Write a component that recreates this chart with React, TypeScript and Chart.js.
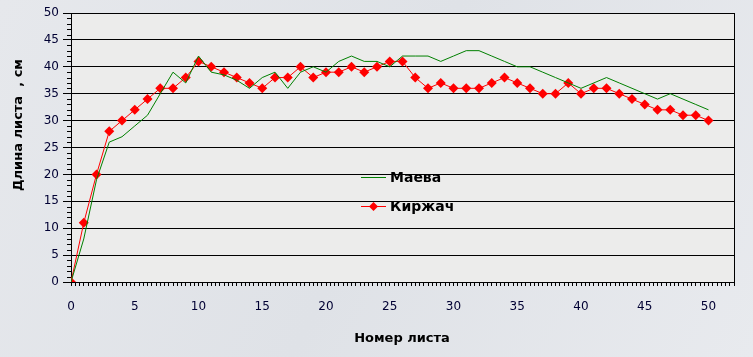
import React, { useEffect, useRef } from "react";
import { Chart, registerables } from "chart.js";

Chart.register(...registerables);

const leafNumbers = [
  0, 1, 2, 3, 4, 5, 6, 7, 8, 9, 10, 11, 12, 13, 14, 15, 16, 17, 18, 19, 20,
  21, 22, 23, 24, 25, 26, 27, 28, 29, 30, 31, 32, 33, 34, 35, 36, 37, 38, 39,
  40, 41, 42, 43, 44, 45, 46, 47, 48, 49, 50,
];

const maeva = [
  0, 8, 19, 26, 27, 29, 31, 35, 39, 37,
  42, 39, 38.5, 37.5, 36, 38, 39, 36, 39, 40,
  39, 41, 42, 41, 41, 40, 42, 42, 42, 41,
  42, 43, 43, 42, 41, 40, 40, 39, 38, 37,
  36, 37, 38, 37, 36, 35, 34, 35, 34, 33,
  32,
];

const kirzhach = [
  0, 11, 20, 28, 30, 32, 34, 36, 36, 38,
  41, 40, 39, 38, 37, 36, 38, 38, 40, 38,
  39, 39, 40, 39, 40, 41, 41, 38, 36, 37,
  36, 36, 36, 37, 38, 37, 36, 35, 35, 37,
  35, 36, 36, 35, 34, 33, 32, 32, 31, 31,
  30,
];

const seriesNames = ["Маева", "Киржач"];
const xTitle = "Номер листа";
const yTitle = "Длина листа  , см";
const yTickLabels = [0, 5, 10, 15, 20, 25, 30, 35, 40, 45, 50];
const xTickLabels = [0, 5, 10, 15, 20, 25, 30, 35, 40, 45, 50];

const W = 753;
const H = 357;

export default function App() {
  const ref = useRef<HTMLCanvasElement | null>(null);

  useEffect(() => {
    document.body.style.margin = "0";
    const canvas = ref.current;
    if (!canvas) return;

    const decor = {
      id: "decor",
      beforeDraw(chart: any) {
        const { ctx, chartArea: a } = chart;
        ctx.save();
        const g = ctx.createLinearGradient(0, 0, W, H);
        g.addColorStop(0, "#e6e8ec");
        g.addColorStop(0.5, "#dfe2e7");
        g.addColorStop(1, "#e8eaee");
        ctx.fillStyle = g;
        ctx.fillRect(0, 0, W, H);
        ctx.fillStyle = "#ececeb";
        ctx.fillRect(a.left, a.top, a.right - a.left, a.bottom - a.top);
        ctx.restore();
      },
      afterDraw(chart: any) {
        const { ctx, chartArea: a } = chart;
        const ys = chart.scales.y;
        ctx.save();
        ctx.strokeStyle = "#000";
        ctx.lineWidth = 1;
        // minor y ticks
        for (let v = ys.min; v <= ys.max; v += 1) {
          if (v % 5 === 0) continue;
          const py = Math.round(ys.getPixelForValue(v)) + 0.5;
          ctx.beginPath();
          ctx.moveTo(a.left - 4, py);
          ctx.lineTo(a.left, py);
          ctx.stroke();
        }
        // frame
        ctx.beginPath();
        ctx.moveTo(Math.round(a.right) + 0.5, a.top);
        ctx.lineTo(Math.round(a.right) + 0.5, a.bottom + 4);
        ctx.stroke();

        // titles
        ctx.fillStyle = "#000";
        ctx.font = "bold 13px 'DejaVu Sans'";
        ctx.textAlign = "center";
        ctx.textBaseline = "middle";
        ctx.fillText(xTitle, 402, 339);
        ctx.save();
        ctx.translate(19, 125);
        ctx.rotate(-Math.PI / 2);
        ctx.fillText(yTitle, 0, 0);
        ctx.restore();

        // legend
        const items = [
          { name: seriesNames[0], color: "#008000", marker: false, y: 177 },
          { name: seriesNames[1], color: "#ff0000", marker: true, y: 206 },
        ];
        ctx.font = "bold 14px 'DejaVu Sans'";
        ctx.textAlign = "left";
        for (const it of items) {
          ctx.strokeStyle = it.color;
          ctx.beginPath();
          ctx.moveTo(361, it.y + 0.5);
          ctx.lineTo(386, it.y + 0.5);
          ctx.stroke();
          if (it.marker) {
            ctx.fillStyle = it.color;
            ctx.beginPath();
            ctx.moveTo(373.5, it.y - 4);
            ctx.lineTo(378, it.y + 0.5);
            ctx.lineTo(373.5, it.y + 5);
            ctx.lineTo(369, it.y + 0.5);
            ctx.closePath();
            ctx.fill();
          }
          ctx.fillStyle = "#000";
          ctx.fillText(it.name, 390, it.y + 1);
        }
        ctx.restore();
      },
    };

    const chart = new Chart(canvas, {
      type: "line",
      data: {
        datasets: [
          {
            label: seriesNames[0],
            data: leafNumbers.map((x, i) => ({ x, y: maeva[i] })),
            borderColor: "#008000",
            borderWidth: 1,
            pointRadius: 0,
            tension: 0,
          },
          {
            label: seriesNames[1],
            data: leafNumbers.map((x, i) => ({ x, y: kirzhach[i] })),
            borderColor: "#ff0000",
            backgroundColor: "#ff0000",
            borderWidth: 1,
            pointStyle: "rectRot",
            pointRadius: 5,
            pointBorderWidth: 0,
            tension: 0,
          },
        ],
      },
      options: {
        responsive: false,
        animation: false,
        devicePixelRatio: 1,
        layout: { padding: { left: 0, right: 19, top: 13, bottom: 0 } },
        plugins: {
          legend: { display: false },
          tooltip: { enabled: false },
        },
        scales: {
          x: {
            type: "linear",
            min: 0,
            max: 52,
            afterBuildTicks: (scale: any) => {
              const t: any[] = [];
              for (let i = 0; i <= 156; i++) t.push({ value: i / 3 });
              scale.ticks = t;
            },
            afterFit: (scale: any) => {
              scale.height = 75;
            },
            ticks: {
              autoSkip: false,
              maxRotation: 0,
              minRotation: 0,
              padding: 14,
              color: "#000033",
              font: { family: "'DejaVu Sans'", size: 12 },
              callback: (v: any) => {
                const r = Math.round(v);
                return Math.abs(v - r) < 1e-6 && xTickLabels.includes(r)
                  ? String(r)
                  : "";
              },
            },
            grid: {
              drawOnChartArea: false,
              drawTicks: true,
              tickLength: 4,
              tickColor: "#000",
            },
            border: { color: "#000", width: 1 },
          },
          y: {
            min: 0,
            max: 50,
            afterBuildTicks: (scale: any) => {
              scale.ticks = yTickLabels.map((v) => ({ value: v }));
            },
            afterFit: (scale: any) => {
              scale.width = 71;
            },
            ticks: {
              padding: 4,
              color: "#000033",
              font: { family: "'DejaVu Sans'", size: 12 },
            },
            grid: {
              color: "#000",
              lineWidth: 1,
              tickLength: 8,
              tickColor: "#000",
            },
            border: { color: "#000", width: 1 },
          },
        },
      },
      plugins: [decor],
    });

    return () => chart.destroy();
  }, []);

  return (
    <div style={{ width: W, height: H }}>
      <canvas ref={ref} width={W} height={H} style={{ display: "block" }} />
    </div>
  );
}
